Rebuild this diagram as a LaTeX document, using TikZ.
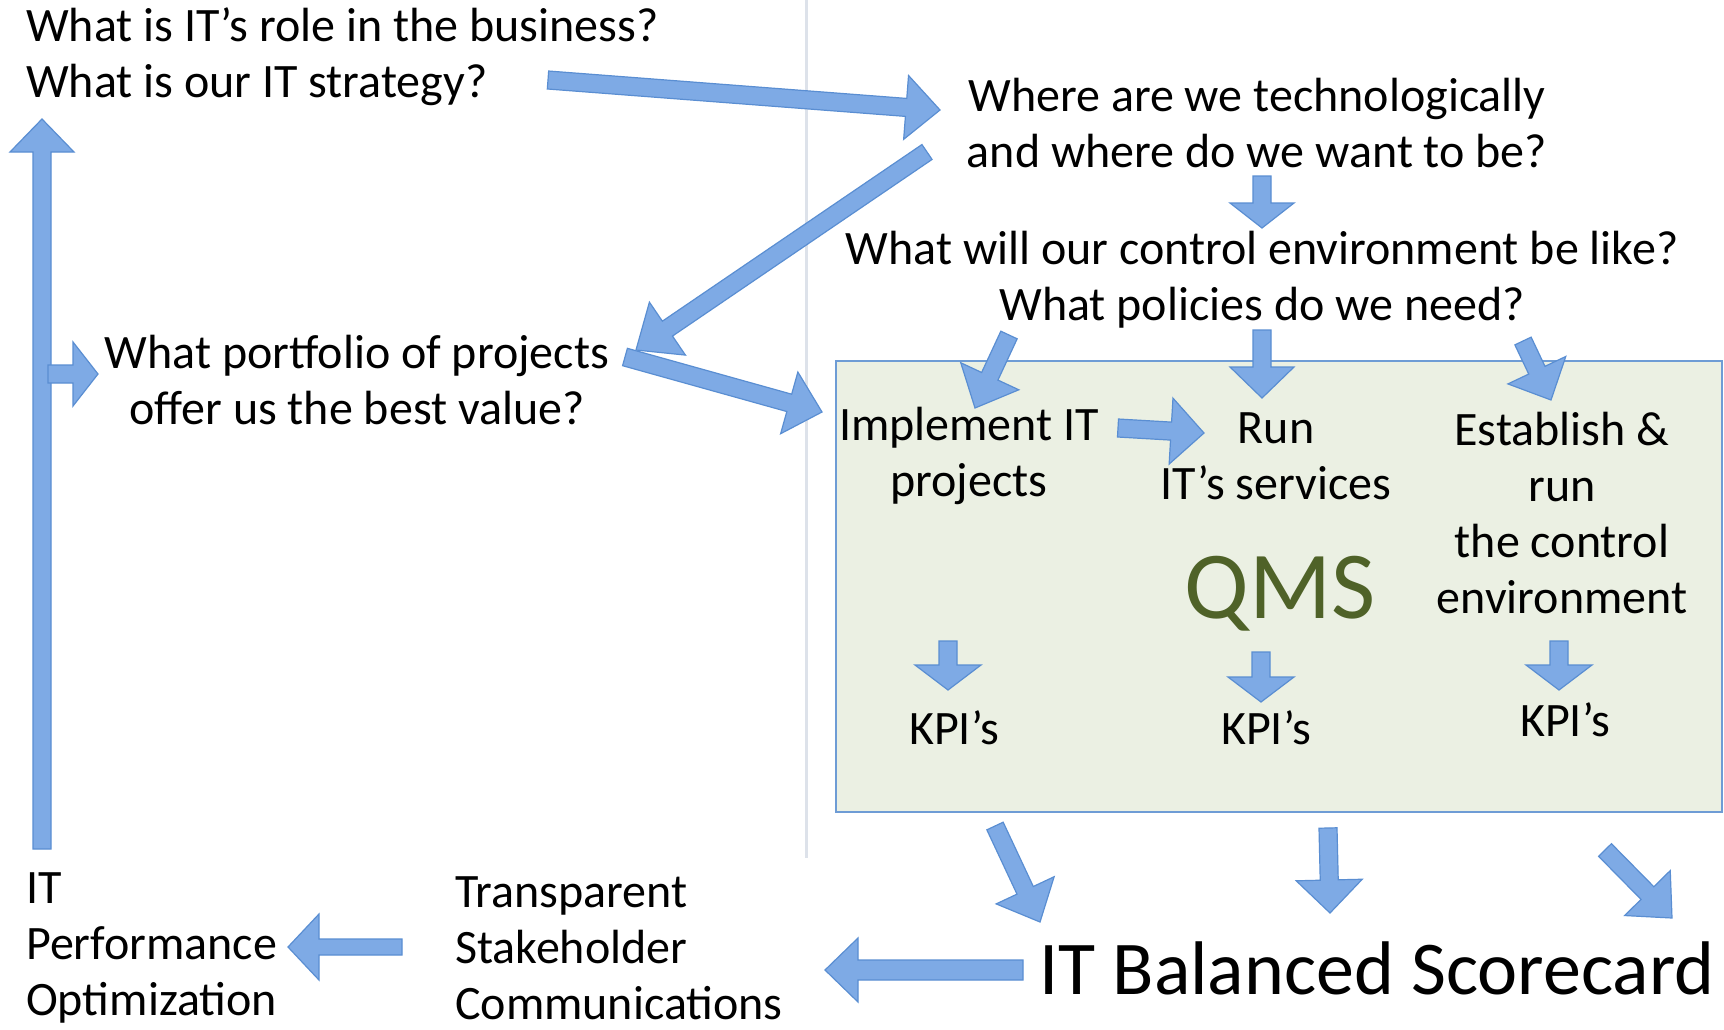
\documentclass[tikz,border=0pt]{standalone}
\usepackage{fontspec}
\setmainfont{Carlito}
\usetikzlibrary{calc}
\definecolor{arrowfill}{HTML}{7EAAE5}
\definecolor{arrowline}{HTML}{5A8ED2}
\definecolor{boxfill}{HTML}{EBF0E3}
\definecolor{boxline}{HTML}{6E9CD5}
\definecolor{qmsgreen}{HTML}{4F6228}
\definecolor{divider}{HTML}{DDE2EA}
\tikzset{
  txt/.style={inner sep=0pt, font=\fontsize{48}{56}\selectfont, align=center},
  blockarrow/.style={fill=arrowfill, draw=arrowline, line width=1.2pt, line join=miter},
  qmsbox/.style={draw=boxline, fill=boxfill, line width=2.5pt, inner sep=0pt, minimum width=886pt, minimum height=451pt}
}
\newcommand\blockarrow[5]{%
  \coordinate (ba-h) at ($(#2)!#5!(#1)$);
  \path[blockarrow] ($(#1)!#3!90:(#2)$) -- ($(ba-h)!#3!-90:(#1)$) -- ($(ba-h)!#4!-90:(#1)$) -- (#2) -- ($(ba-h)!#4!90:(#1)$) -- ($(ba-h)!#3!90:(#1)$) -- ($(#1)!#3!-90:(#2)$) -- cycle;
}
\begin{document}
\begin{tikzpicture}[x=1pt,y=-1pt]
\useasboundingbox (0,0) rectangle (1724,1029);
\fill[white] (0,0) rectangle (1724,1029);
% divider
\draw[divider, line width=3pt] (806,0) -- (806,858);
% QMS box
\node[qmsbox] (box) at (1279,586.5) {};
% texts
\node[txt, align=left, anchor=west] (q1) at (26,57) {What is IT’s role in the business?\\What is our IT strategy?};
\node[txt] (q2) at (1257,123) {Where are we technologically\\and where do we want to be?};
\node[txt] (q3) at (1262,280) {What will our control environment be like?\\What policies do we need?};
\node[txt] (q4) at (357,380) {What portfolio of projects\\offer us the best value?};
\node[txt] (impl) at (969,456) {Implement IT\\projects};
\node[txt] (run) at (1276,456) {Run\\IT’s services};
\node[txt] (estab) at (1562,513) {Establish \&\\run\\the control\\environment};
\node[txt, font=\fontsize{96}{110}\selectfont, text=qmsgreen] (qms) at (1280,594) {QMS};
\node[txt] (kpi1) at (954,728) {KPI’s};
\node[txt] (kpi2) at (1266,728) {KPI’s};
\node[txt] (kpi3) at (1565,720) {KPI’s};
\node[txt, font=\fontsize{76}{90}\selectfont] (bsc) at (1377,968) {IT Balanced Scorecard};
\node[txt, align=left, anchor=west] (tsc) at (455,948) {Transparent\\Stakeholder\\Communications};
\node[txt, align=left, anchor=west] (itpo) at (26,948) {IT\\Performance\\Optimization};
% arrow end points
\coordinate (a1s) at (548,80);   \coordinate (a1t) at (940,110);
\coordinate (a2s) at (927,152);  \coordinate (a2t) at (636,350);
\coordinate (a3s) at (625,357);  \coordinate (a3t) at (822,412);
\coordinate (lvs) at (42,849);   \coordinate (lvt) at (42,119);
\coordinate (lhs) at (48,374);   \coordinate (lht) at (98,374);
\coordinate (dqs) at (1262,176); \coordinate (dqt) at (1262,228);
\coordinate (b1s) at (1009,335); \coordinate (b1t) at (975,408);
\coordinate (b2s) at (1262,330); \coordinate (b2t) at (1262,398);
\coordinate (b3s) at (1523,341); \coordinate (b3t) at (1551,400);
\coordinate (b4s) at (1118,428); \coordinate (b4t) at (1204,433);
\coordinate (k1s) at (948,641);  \coordinate (k1t) at (948,690);
\coordinate (k2s) at (1261,652); \coordinate (k2t) at (1261,702);
\coordinate (k3s) at (1559,641); \coordinate (k3t) at (1559,690);
\coordinate (c1s) at (995,826);  \coordinate (c1t) at (1040,922);
\coordinate (c2s) at (1328,828); \coordinate (c2t) at (1330,913);
\coordinate (c3s) at (1605,850); \coordinate (c3t) at (1672,918);
\coordinate (d1s) at (1023,970); \coordinate (d1t) at (825,970);
\coordinate (d2s) at (402,947);  \coordinate (d2t) at (288,947);
% arrows
\blockarrow{a1s}{a1t}{9pt}{32pt}{34pt}
\blockarrow{a2s}{a2t}{9pt}{32pt}{38pt}
\blockarrow{a3s}{a3t}{9pt}{32pt}{34pt}
\blockarrow{lvs}{lvt}{9pt}{32pt}{33pt}
\blockarrow{lhs}{lht}{9pt}{32pt}{25pt}
\blockarrow{dqs}{dqt}{9pt}{32pt}{25pt}
\blockarrow{b1s}{b1t}{9pt}{32pt}{35pt}
\blockarrow{b2s}{b2t}{9pt}{32pt}{31pt}
\blockarrow{b3s}{b3t}{9pt}{32pt}{33pt}
\blockarrow{b4s}{b4t}{9pt}{33pt}{33pt}
\blockarrow{k1s}{k1t}{9pt}{33pt}{25pt}
\blockarrow{k2s}{k2t}{9pt}{33pt}{25pt}
\blockarrow{k3s}{k3t}{9pt}{33pt}{25pt}
\blockarrow{c1s}{c1t}{9pt}{32pt}{35pt}
\blockarrow{c2s}{c2t}{9pt}{33pt}{33pt}
\blockarrow{c3s}{c3t}{9pt}{32pt}{35pt}
\blockarrow{d1s}{d1t}{10pt}{32pt}{33pt}
\blockarrow{d2s}{d2t}{8pt}{33pt}{31pt}
\end{tikzpicture}
\end{document}
